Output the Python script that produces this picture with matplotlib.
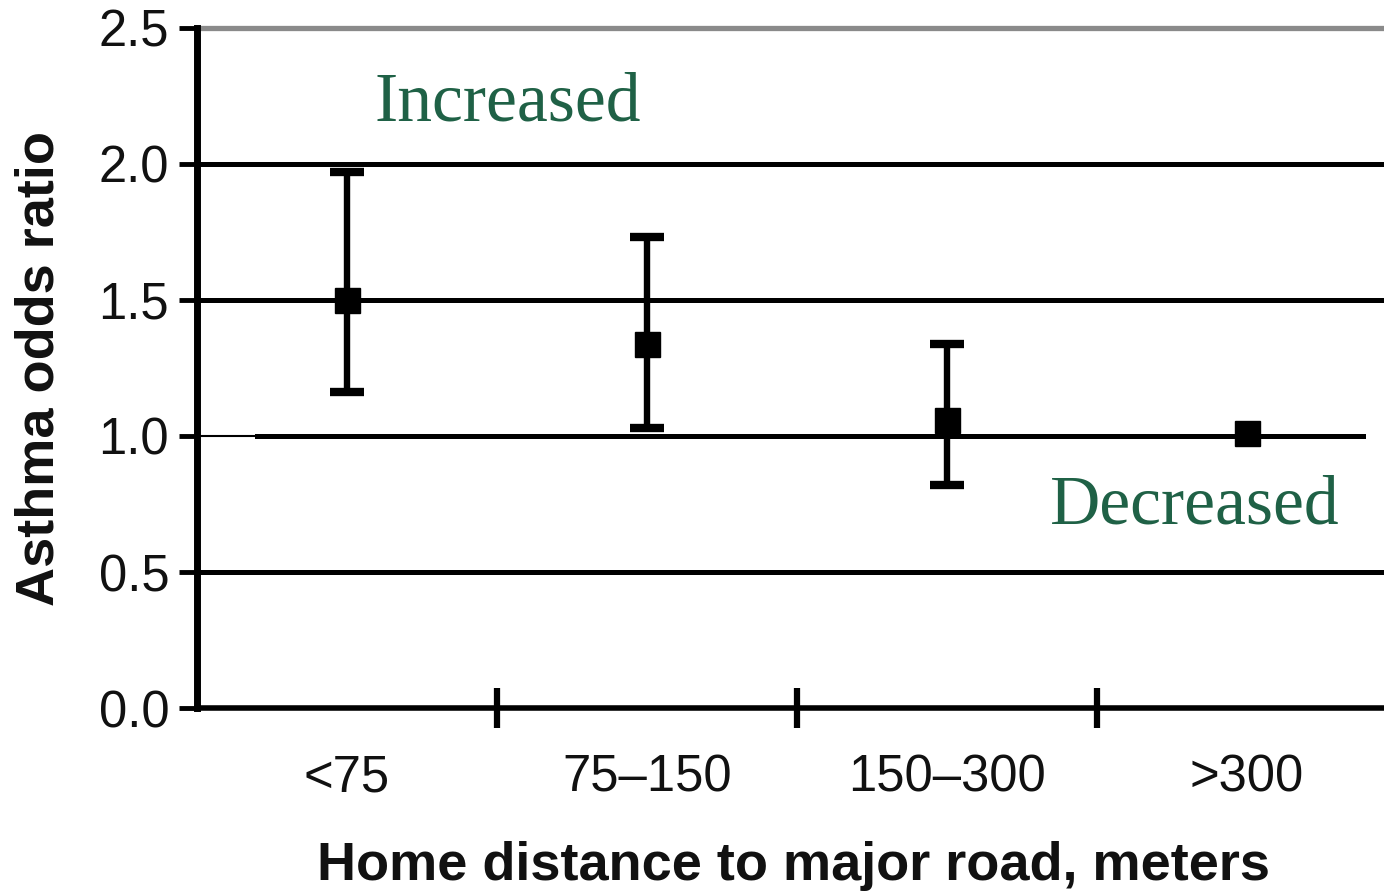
import numpy as np
import matplotlib
matplotlib.use("Agg")
import matplotlib.pyplot as plt

# data
categories = ["<75", "75\u2013150", "150\u2013300", ">300"]
odds_ratio = [1.50, 1.34, 1.06, 1.01]
ci_low = [1.16, 1.03, 0.82, 1.01]
ci_high = [1.97, 1.73, 1.34, 1.01]
y_ticks = [0.0, 0.5, 1.0, 1.5, 2.0, 2.5]
ref_lines = [0.5, 1.0, 1.5, 2.0]

plt.rcParams['font.family'] = ['Liberation Sans', 'DejaVu Sans']

fig = plt.figure(figsize=(13.84, 8.94), dpi=100)
ax = fig.add_axes([197/1384, 186/894, 1200/1384, 680/894])

x = np.arange(len(categories))
ax.set_xlim(-0.5, 3.5)
ax.set_ylim(0, 2.5)

# horizontal reference lines
for v in ref_lines:
    if v == 1.0:
        ax.axhline(v, xmin=0, xmax=0.05, color='black', lw=1.5, zorder=1)
        ax.axhline(v, xmin=0.05, xmax=0.972, color='black', lw=3.6, zorder=1)
    else:
        ax.axhline(v, color='black', lw=3.6, zorder=1)
ax.axhline(2.5, color='#8a8a8a', lw=3.8, zorder=1, clip_on=False)

# points with confidence intervals (only where there is an interval)
yerr = np.array([np.array(odds_ratio) - np.array(ci_low),
                 np.array(ci_high) - np.array(odds_ratio)])
has_ci = yerr.sum(axis=0) > 0
ax.errorbar(x[has_ci], np.array(odds_ratio)[has_ci], yerr=yerr[:, has_ci],
            fmt='s', color='black', ms=18, elinewidth=4.6, capsize=12,
            capthick=6, zorder=3)
ax.plot(x[~has_ci], np.array(odds_ratio)[~has_ci], 's', color='black',
        ms=18, zorder=3)

# spines
for s in ['top', 'right']:
    ax.spines[s].set_visible(False)
ax.spines['left'].set_linewidth(5)
ax.spines['bottom'].set_linewidth(4)

ax.set_yticks(y_ticks)
ax.set_yticklabels([f"{v:.1f}" for v in y_ticks], fontsize=36.5, color='#111111')
ax.tick_params(axis='y', direction='out', length=13, width=3.5, pad=7)

# category boundaries as major ticks, labels on minor ticks
ax.set_xticks([0.5, 1.5, 2.5])
ax.set_xticklabels([])
ax.tick_params(axis='x', which='major', direction='inout', length=29, width=4.5)
ax.set_xticks(x, minor=True)
ax.set_xticklabels(categories, minor=True, fontsize=36.5, color='#111111')
ax.tick_params(axis='x', which='minor', length=0, pad=33)

ax.set_xlabel("Home distance to major road, meters", fontsize=39,
              fontweight='bold', color='#111111')
ax.xaxis.set_label_coords(0.497, -0.195)
ax.set_ylabel("Asthma odds ratio", fontsize=39, fontweight='bold',
              color='#111111')
ax.yaxis.set_label_coords(-0.11, 0.5)

green = '#1f6146'
serif = ['Liberation Serif', 'DejaVu Serif']
ax.text(0.093, 2.22, "Increased", fontsize=50, color=green,
        family=serif, ha='left', va='center')
ax.text(2.343, 0.74, "Decreased", fontsize=50, color=green,
        family=serif, ha='left', va='center')

fig.savefig("out.png", dpi=100)
